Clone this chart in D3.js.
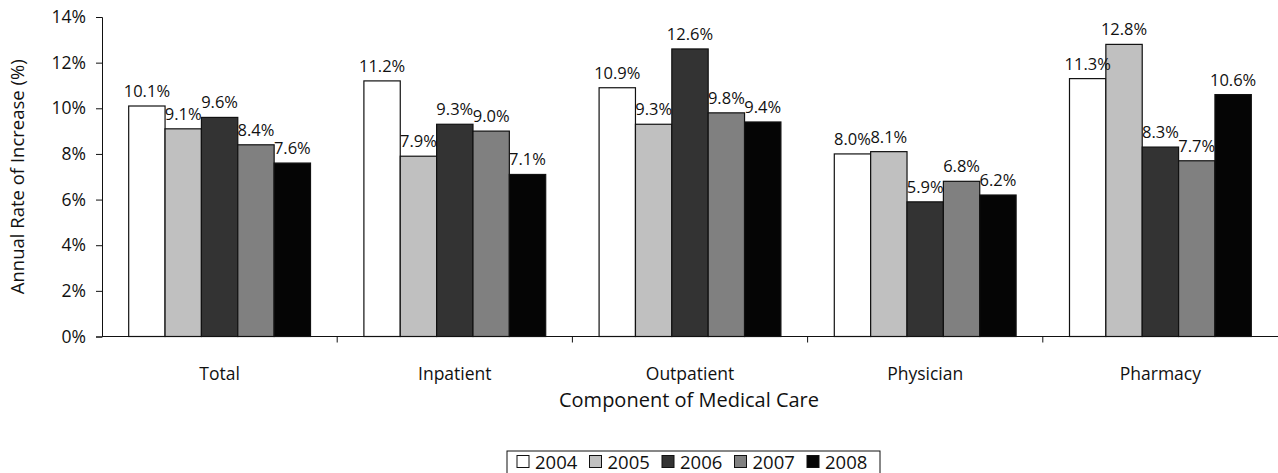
<!DOCTYPE html>
<html>
<head>
<meta charset="utf-8">
<script src="https://cdn.jsdelivr.net/npm/d3@7"></script>
<style>
  html, body { margin: 0; padding: 0; background: #fff; }
  svg { display: block; }
  text { font-family: "Open Sans", "DejaVu Sans", sans-serif; fill: #111; }
</style>
</head>
<body>
<svg id="chart" width="1278" height="473"></svg>
<script>
// Components of medical care and the years compared
const categories = ["Total", "Inpatient", "Outpatient", "Physician", "Pharmacy"];
const years = ["2004", "2005", "2006", "2007", "2008"];

// Annual rate of increase (%) per component, one array per year
const v2004 = [10.1, 11.2, 10.9, 8.0, 11.3];
const v2005 = [9.1, 7.9, 9.3, 8.1, 12.8];
const v2006 = [9.6, 9.3, 12.6, 5.9, 8.3];
const v2007 = [8.4, 9.0, 9.8, 6.8, 7.7];
const v2008 = [7.6, 7.1, 9.4, 6.2, 10.6];

const yTicks = [0, 2, 4, 6, 8, 10, 12, 14];
const fills = ["#ffffff", "#c0c0c0", "#333333", "#808080", "#050505"];

const seriesValues = [v2004, v2005, v2006, v2007, v2008];
const rows = categories.map((c, i) => ({
  category: c,
  values: years.map((y, j) => ({ year: y, value: seriesValues[j][i] }))
}));

const svg = d3.select("#chart");
const margin = { left: 102, right: 0, top: 17, bottom: 136.5 };
const W = 1278, H = 473;

const x0 = d3.scaleBand().domain(categories)
  .range([margin.left, W - margin.right])
  .paddingInner(0.227).paddingOuter(0.1135);
const x1 = d3.scaleBand().domain(years).range([0, x0.bandwidth()]);
const xCat = d3.scaleBand().domain(categories).range([margin.left, W - margin.right]);
const y = d3.scaleLinear().domain([0, 14]).range([H - margin.bottom, margin.top]);
const color = d3.scaleOrdinal().domain(years).range(fills);

// Bars
const groups = svg.append("g").selectAll("g").data(rows).join("g")
  .attr("transform", d => `translate(${x0(d.category)},0)`);

groups.selectAll("rect").data(d => d.values).join("rect")
  .attr("x", d => x1(d.year))
  .attr("y", d => y(d.value))
  .attr("width", x1.bandwidth())
  .attr("height", d => y(0) - y(d.value))
  .attr("fill", d => color(d.year))
  .attr("stroke", "#111")
  .attr("stroke-width", 1.2);

// Value labels
groups.selectAll("text.val").data(d => d.values).join("text")
  .attr("class", "val")
  .attr("x", d => x1(d.year) + x1.bandwidth() / 2)
  .attr("y", d => y(d.value) - 9)
  .attr("text-anchor", "middle")
  .style("font-size", "16.5px")
  .text(d => d.value.toFixed(1) + "%");

// Y axis
const yAxis = svg.append("g")
  .attr("transform", `translate(${margin.left},0)`)
  .call(d3.axisLeft(y).tickValues(yTicks).tickFormat(d => d + "%").tickSize(6).tickPadding(10));
yAxis.selectAll("text").style("font-size", "17.5px");
yAxis.select(".domain").attr("stroke", "#111");
yAxis.selectAll(".tick line").attr("stroke", "#111");

// X axis: ticks at category boundaries
const xAxisG = svg.append("g").attr("transform", `translate(0,${y(0)})`);
xAxisG.append("line")
  .attr("x1", margin.left).attr("x2", W)
  .attr("stroke", "#111");
xAxisG.selectAll("line.tk").data(categories.slice(1)).join("line")
  .attr("class", "tk")
  .attr("x1", d => xCat(d)).attr("x2", d => xCat(d))
  .attr("y1", 0).attr("y2", 6)
  .attr("stroke", "#111");
xAxisG.selectAll("text").data(categories).join("text")
  .attr("x", d => xCat(d) + xCat.bandwidth() / 2)
  .attr("y", 43)
  .attr("text-anchor", "middle")
  .style("font-size", "17.5px")
  .text(d => d);

// Axis titles
svg.append("text")
  .attr("transform", `translate(24,${(y(0) + y(14)) / 2}) rotate(-90)`)
  .attr("text-anchor", "middle")
  .style("font-size", "18.5px")
  .text("Annual Rate of Increase (%)");

svg.append("text")
  .attr("x", (margin.left + W) / 2 - 1)
  .attr("y", 407)
  .attr("text-anchor", "middle")
  .style("font-size", "20px")
  .text("Component of Medical Care");

// Legend
const legend = svg.append("g").attr("transform", "translate(507,451)");
legend.append("rect")
  .attr("width", 373).attr("height", 23)
  .attr("fill", "#fff").attr("stroke", "#111");
const items = legend.selectAll("g").data(years).join("g")
  .attr("transform", (d, i) => `translate(${10 + i * 72.5},0)`);
items.append("rect")
  .attr("x", 0).attr("y", 4.5).attr("width", 12).attr("height", 12)
  .attr("fill", d => color(d)).attr("stroke", "#111");
items.append("text")
  .attr("x", 18).attr("y", 17.5)
  .style("font-size", "18.5px")
  .text(d => d);
</script>
</body>
</html>
